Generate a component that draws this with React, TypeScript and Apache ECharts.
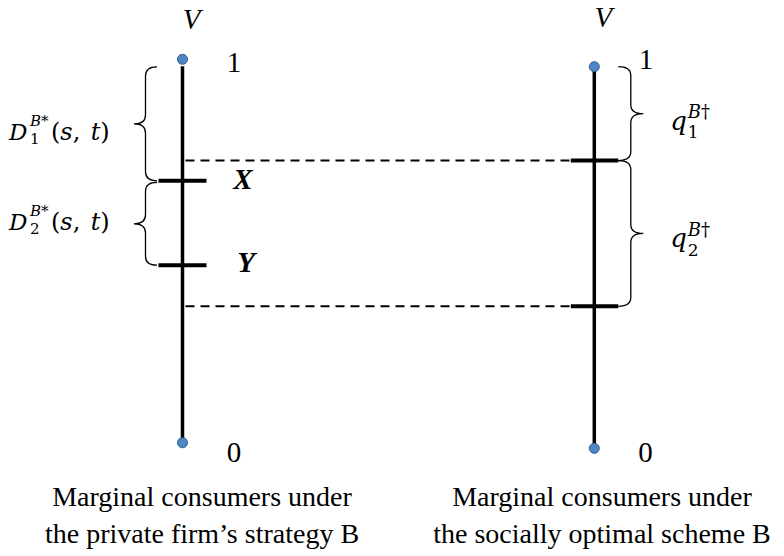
import React, { useEffect, useRef } from 'react';
import * as echarts from 'echarts';

// ---- data ----
const columnCaptions = [
  ['Marginal consumers under', 'the private firm’s strategy B'],
  ['Marginal consumers under', 'the socially optimal scheme B'],
];
const axisNames = ['V', 'V'];
const endValues = [0, 1];
const endLabels = ['0', '1'];
const axisTops = [0.982, 1];
const leftTickValues = [0.683, 0.463];
const leftTickLabels = ['X', 'Y'];
const rightTickValues = [0.754, 0.372];
const leftBraces = [[0.98, 0.683], [0.679, 0.463]];
const leftBraceSubs = ['1', '2'];
const rightBraces = [[1.0, 0.754], [0.754, 0.372]];
const rightBraceSubs = ['1', '2'];

// ---- styles ----
const SERIF = 'Liberation Serif';
const MATH = 'DejaVu Serif';
const X0 = 182.5;
const X1 = 594.3;
const UNIT = X1 - X0;
const XMIN = -X0 / UNIT;
const XMAX = (784 - X0) / UNIT;

const endLabelOffsets = [
  [[51.5, 9.5], [51.5, 2.7]],
  [[51.2, 3.7], [51.7, -7.7]],
];
const axisNameOffsets = [[9, -40.5], [9, -49.5]];
const tickLabelOffsets = [[60.5, -1.5], [63.5, -3]];
const dLabelDy = [8, -2];
const qLabelDy = [7, 5];
const captionX = [202, 602];

function bracePath(xe: number, xv: number, xt: number, y1: number, y2: number, r: number) {
  const ym = (y1 + y2) / 2;
  return `M${xe},${y1} Q${xv},${y1} ${xv},${y1 + r} L${xv},${ym - r} Q${xv},${ym} ${xt},${ym} Q${xv},${ym} ${xv},${ym + r} L${xv},${y2 - r} Q${xv},${y2} ${xe},${y2}`;
}

function txt(x: number, y: number, text: string, extra: any) {
  return {
    type: 'text',
    x,
    y,
    style: { text, fill: '#000', align: 'left', verticalAlign: 'middle', ...extra },
  };
}

export default function App() {
  const ref = useRef<HTMLDivElement>(null);
  useEffect(() => {
    const chart = echarts.init(ref.current!, null, { renderer: 'svg' });

    const option: any = {
      animation: false,
      backgroundColor: '#fff',
      grid: [
        { left: 0, width: 784, top: 59.3, height: 383.4 },
        { left: 0, width: 784, top: 66.7, height: 381.6 },
      ],
      xAxis: [0, 1].map((g) => ({ gridIndex: g, type: 'value', min: XMIN, max: XMAX, show: false })),
      yAxis: [0, 1].map((g) => ({ gridIndex: g, type: 'value', min: 0, max: 1, show: false })),
      series: [
        // vertical axis lines
        ...[0, 1].map((c) => ({
          type: 'line',
          xAxisIndex: c,
          yAxisIndex: c,
          data: [[c, 0], [c, axisTops[c]]],
          symbol: 'none',
          silent: true,
          z: 2,
          lineStyle: { color: '#000', width: 3.5 },
        })),
        // end dots
        ...[0, 1].map((c) => ({
          type: 'scatter',
          xAxisIndex: c,
          yAxisIndex: c,
          data: endValues.map((v) => [c, v]),
          symbolSize: 10,
          silent: true,
          z: 5,
          itemStyle: { color: '#4F86C6', borderColor: '#2F5D8C', borderWidth: 1, opacity: 1 },
        })),
        // end labels and axis names
        ...[0, 1].map((c) => ({
          type: 'custom',
          xAxisIndex: c,
          yAxisIndex: c,
          data: endValues.map((v) => [c, v]),
          silent: true,
          z: 6,
          renderItem: (params: any, api: any) => {
            const i = params.dataIndex;
            const p = api.coord([api.value(0), api.value(1)]);
            const off = endLabelOffsets[c][i];
            const children: any[] = [
              txt(p[0] + off[0], p[1] + off[1], endLabels[i], {
                fontFamily: SERIF,
                fontSize: 29,
                align: 'center',
              }),
            ];
            if (endValues[i] === 1) {
              const o = axisNameOffsets[c];
              children.push(
                txt(p[0] + o[0], p[1] + o[1], axisNames[c], {
                  fontFamily: SERIF,
                  fontSize: 29,
                  fontStyle: 'italic',
                  align: 'center',
                })
              );
            }
            return { type: 'group', children };
          },
        })),
        // left ticks with X / Y labels
        {
          type: 'custom',
          xAxisIndex: 0,
          yAxisIndex: 0,
          data: leftTickValues.map((v) => [0, v]),
          silent: true,
          z: 4,
          renderItem: (params: any, api: any) => {
            const i = params.dataIndex;
            const p = api.coord([api.value(0), api.value(1)]);
            const o = tickLabelOffsets[i];
            return {
              type: 'group',
              children: [
                {
                  type: 'line',
                  shape: { x1: p[0] - 24, y1: p[1], x2: p[0] + 24, y2: p[1] },
                  style: { stroke: '#000', lineWidth: 4 },
                },
                txt(p[0] + o[0], p[1] + o[1], leftTickLabels[i], {
                  fontFamily: SERIF,
                  fontSize: 29,
                  fontStyle: 'italic',
                  fontWeight: 'bold',
                  align: 'center',
                }),
              ],
            };
          },
        },
        // right ticks
        {
          type: 'custom',
          xAxisIndex: 1,
          yAxisIndex: 1,
          data: rightTickValues.map((v) => [1, v]),
          silent: true,
          z: 4,
          renderItem: (params: any, api: any) => {
            const p = api.coord([api.value(0), api.value(1)]);
            return {
              type: 'line',
              shape: { x1: p[0] - 23.5, y1: p[1], x2: p[0] + 24, y2: p[1] },
              style: { stroke: '#000', lineWidth: 4 },
            };
          },
        },
        // dashed connectors
        {
          type: 'custom',
          xAxisIndex: 1,
          yAxisIndex: 1,
          data: rightTickValues.map((v) => [0, v]),
          silent: true,
          z: 3,
          renderItem: (params: any, api: any) => {
            const a = api.coord([0, api.value(1)]);
            const b = api.coord([1, api.value(1)]);
            return {
              type: 'line',
              shape: { x1: a[0] + 3, y1: a[1], x2: b[0] - 23.5, y2: b[1] },
              style: { stroke: '#000', lineWidth: 2, lineDash: [9, 6] },
            };
          },
        },
        // left braces with D labels
        {
          type: 'custom',
          xAxisIndex: 0,
          yAxisIndex: 0,
          data: leftBraces.map((b) => [0, b[0], b[1]]),
          silent: true,
          z: 4,
          renderItem: (params: any, api: any) => {
            const i = params.dataIndex;
            const p1 = api.coord([0, api.value(1)]);
            const p2 = api.coord([0, api.value(2)]);
            const ax = p1[0];
            const ym = (p1[1] + p2[1]) / 2;
            const xs = ax - 173.5;
            const cy = ym + dLabelDy[i];
            return {
              type: 'group',
              children: [
                {
                  type: 'path',
                  shape: { pathData: bracePath(ax - 25.5, ax - 37, ax - 48.5, p1[1], p2[1], 9) },
                  style: { stroke: '#000', lineWidth: 1.3, fill: null },
                },
                txt(xs, cy, 'D', { fontFamily: MATH, fontSize: 23, fontStyle: 'italic' }),
                txt(xs + 21, cy - 11, '{i|B}{p|*}', {
                  rich: {
                    i: { fontFamily: MATH, fontSize: 15, fontStyle: 'italic' },
                    p: { fontFamily: MATH, fontSize: 15 },
                  },
                }),
                txt(xs + 21, cy + 7.5, leftBraceSubs[i], { fontFamily: MATH, fontSize: 15 }),
                txt(xs + 42, cy, '{p|(}{i|s}{c|, }{i|t}{p|)}', {
                  rich: {
                    i: { fontFamily: MATH, fontSize: 24, fontStyle: 'italic' },
                    p: { fontFamily: MATH, fontSize: 24 },
                    c: { fontFamily: MATH, fontSize: 24, width: 18 },
                  },
                }),
              ],
            };
          },
        },
        // right braces with q labels
        {
          type: 'custom',
          xAxisIndex: 1,
          yAxisIndex: 1,
          data: rightBraces.map((b) => [1, b[0], b[1]]),
          silent: true,
          z: 4,
          renderItem: (params: any, api: any) => {
            const i = params.dataIndex;
            const p1 = api.coord([1, api.value(1)]);
            const p2 = api.coord([1, api.value(2)]);
            const ax = p1[0];
            const ym = (p1[1] + p2[1]) / 2;
            const xs = ax + 76;
            const cy = ym + qLabelDy[i];
            return {
              type: 'group',
              children: [
                {
                  type: 'path',
                  shape: { pathData: bracePath(ax + 24, ax + 36.5, ax + 49, p1[1], p2[1], 9) },
                  style: { stroke: '#000', lineWidth: 1.3, fill: null },
                },
                txt(xs, cy, 'q', { fontFamily: MATH, fontSize: 26, fontStyle: 'italic' }),
                txt(xs + 17.5, cy - 9, '{i|B}{p|†}', {
                  rich: {
                    i: { fontFamily: MATH, fontSize: 18, fontStyle: 'italic' },
                    p: { fontFamily: MATH, fontSize: 18 },
                  },
                }),
                txt(xs + 17.5, cy + 11.5, rightBraceSubs[i], { fontFamily: MATH, fontSize: 17 }),
              ],
            };
          },
        },
      ],
      graphic: columnCaptions.flatMap((lines, c) =>
        lines.map((line, j) => ({
          type: 'text',
          x: captionX[c],
          y: 496 + j * 37,
          silent: true,
          style: {
            text: line,
            fontFamily: SERIF,
            fontSize: 28,
            fill: '#000',
            align: 'center',
            verticalAlign: 'middle',
          },
        }))
      ),
    };

    chart.setOption(option);
    return () => chart.dispose();
  }, []);

  return (
    <div
      ref={ref}
      style={{ position: 'fixed', left: 0, top: 0, width: 784, height: 556, background: '#fff' }}
    />
  );
}
